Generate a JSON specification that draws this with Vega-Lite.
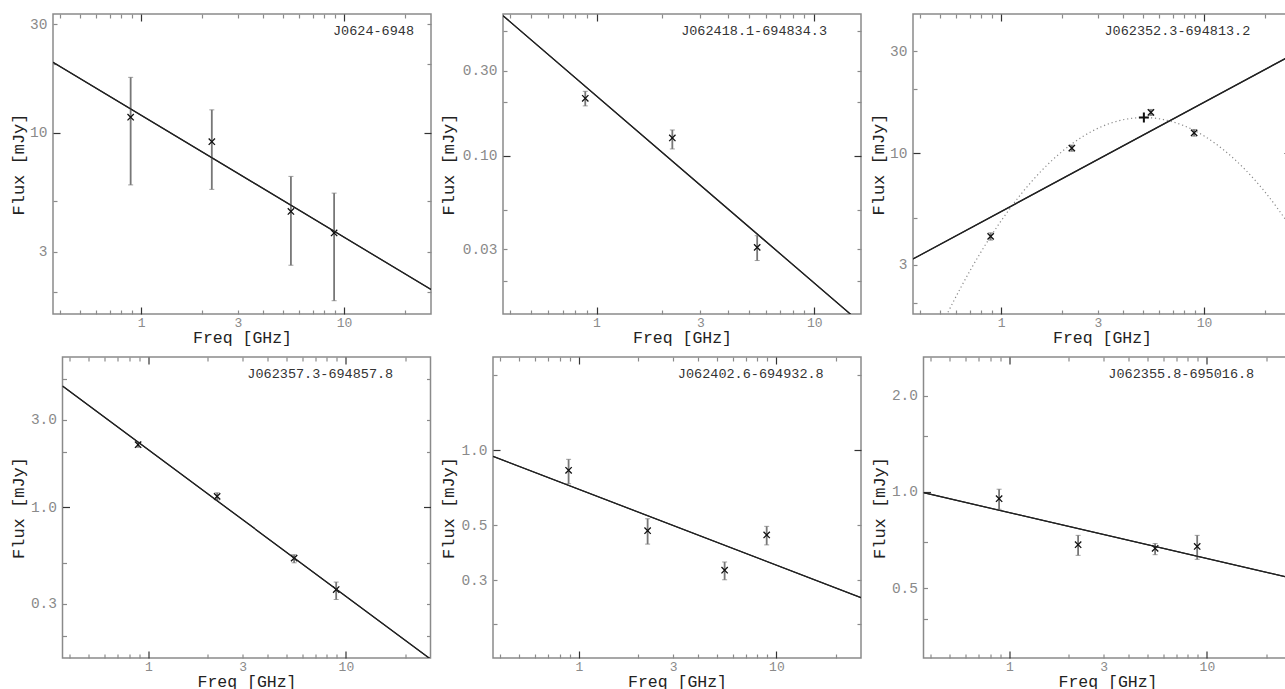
{
 "$schema": "https://vega.github.io/schema/vega-lite/v6.json",
 "padding": {"left": 0, "top": 12, "right": 0, "bottom": 0},
 "columns": 1,
 "spacing": 8,
 "config": {
  "view": {"stroke": "#8a8a8a", "strokeWidth": 1.5},
  "axis": {"grid": false, "domain": false, "labelFont": "Liberation Mono", "labelFontSize": 14.5, "labelColor": "#8a8a8a", "titleFont": "Liberation Mono", "titleFontSize": 17, "titleFontWeight": "normal", "titleColor": "#222", "tickColor": "#8a8a8a", "tickWidth": 1.2, "labelOverlap": false, "labelFlush": false},
  "axisX": {"labelFontSize": 13, "titleFontSize": 16.5},
  "title": {"anchor": "end", "frame": "group", "orient": "top", "offset": -24.5, "baseline": "alphabetic", "font": "Liberation Mono", "fontSize": 13.5, "fontWeight": "normal", "color": "#333"}
 },
 "datasets": {
  "pts": [
   {"src": "A", "freq": 0.888, "flux": 11.7, "lo": 5.9, "hi": 17.5},
   {"src": "A", "freq": 2.23, "flux": 9.13, "lo": 5.64, "hi": 12.6},
   {"src": "A", "freq": 5.47, "flux": 4.51, "lo": 2.62, "hi": 6.43},
   {"src": "A", "freq": 8.93, "flux": 3.63, "lo": 1.83, "hi": 5.43},
   {"src": "B", "freq": 0.888, "flux": 0.21, "lo": 0.1905, "hi": 0.2298},
   {"src": "B", "freq": 2.23, "flux": 0.126, "lo": 0.1094, "hi": 0.1397},
   {"src": "B", "freq": 5.47, "flux": 0.0308, "lo": 0.026, "hi": 0.0358},
   {"src": "C", "freq": 0.888, "flux": 4.08, "lo": 3.92, "hi": 4.24},
   {"src": "C", "freq": 2.23, "flux": 10.55, "lo": 10.2, "hi": 10.9},
   {"src": "C", "freq": 5.47, "flux": 15.5, "lo": 15.0, "hi": 16.0},
   {"src": "C", "freq": 8.93, "flux": 12.44, "lo": 12.0, "hi": 12.9},
   {"src": "D", "freq": 0.888, "flux": 2.19, "lo": 2.12, "hi": 2.26},
   {"src": "D", "freq": 2.23, "flux": 1.148, "lo": 1.096, "hi": 1.2},
   {"src": "D", "freq": 5.47, "flux": 0.53, "lo": 0.5, "hi": 0.553},
   {"src": "D", "freq": 8.93, "flux": 0.358, "lo": 0.316, "hi": 0.393},
   {"src": "E", "freq": 0.888, "flux": 0.831, "lo": 0.734, "hi": 0.92},
   {"src": "E", "freq": 2.23, "flux": 0.4755, "lo": 0.42, "hi": 0.531},
   {"src": "E", "freq": 5.47, "flux": 0.33, "lo": 0.302, "hi": 0.356},
   {"src": "E", "freq": 8.93, "flux": 0.457, "lo": 0.417, "hi": 0.495},
   {"src": "F", "freq": 0.888, "flux": 0.953, "lo": 0.883, "hi": 1.02},
   {"src": "F", "freq": 2.23, "flux": 0.6845, "lo": 0.634, "hi": 0.732},
   {"src": "F", "freq": 5.47, "flux": 0.667, "lo": 0.637, "hi": 0.69},
   {"src": "F", "freq": 8.93, "flux": 0.676, "lo": 0.616, "hi": 0.732}
  ],
  "fit": [
   {"src": "A", "freq": 0.368, "flux": 20.4}, {"src": "A", "freq": 26.8, "flux": 2.05},
   {"src": "B", "freq": 0.372, "flux": 0.609}, {"src": "B", "freq": 16.4, "flux": 0.0116},
   {"src": "C", "freq": 0.368, "flux": 3.2}, {"src": "C", "freq": 26.8, "flux": 28.6},
   {"src": "D", "freq": 0.368, "flux": 4.56}, {"src": "D", "freq": 26.8, "flux": 0.15},
   {"src": "E", "freq": 0.368, "flux": 0.946}, {"src": "E", "freq": 26.8, "flux": 0.256},
   {"src": "F", "freq": 0.368, "flux": 0.995}, {"src": "F", "freq": 26.8, "flux": 0.538}
  ],
  "curve": [
   {"freq": 0.525, "flux": 1.668}, {"freq": 0.631, "flux": 2.342}, {"freq": 0.794, "flux": 3.438},
   {"freq": 1.0, "flux": 4.824}, {"freq": 1.259, "flux": 6.467}, {"freq": 1.585, "flux": 8.294},
   {"freq": 1.995, "flux": 10.17}, {"freq": 2.512, "flux": 11.92}, {"freq": 3.162, "flux": 13.36},
   {"freq": 3.981, "flux": 14.31}, {"freq": 5.05, "flux": 14.66}, {"freq": 6.31, "flux": 14.35},
   {"freq": 7.943, "flux": 13.44}, {"freq": 10.0, "flux": 12.03}, {"freq": 12.59, "flux": 10.29},
   {"freq": 15.85, "flux": 8.418}, {"freq": 19.95, "flux": 6.583}, {"freq": 26.9, "flux": 4.474}
  ],
  "peak": [{"freq": 5.05, "flux": 14.66}],
  "blank": [{"b": 0}]
 },
 "concat": [
  {"spacing": 5, "hconcat": [
   {"width": 2.3, "height": 1, "data": {"name": "blank"}, "mark": {"type": "rect", "opacity": 0}, "view": {"stroke": null}},
   {"width": 378, "height": 300, "title": {"text": "J0624-6948", "dx": -17},
    "layer": [
     {"data": {"name": "fit"}, "transform": [{"filter": "datum.src == 'A'"}], "mark": {"type": "line", "clip": true, "color": "#222", "strokeWidth": 1.2},
      "encoding": {
       "x": {"field": "freq", "type": "quantitative", "scale": {"type": "log", "domain": [0.368, 26.8], "nice": false}, "axis": {"orient": "bottom", "title": "Freq [GHz]", "ticks": false, "values": [1,3,10], "format": "~g", "labelPadding": 2, "minExtent": 13, "maxExtent": 13, "titlePadding": 2}},
       "y": {"field": "flux", "type": "quantitative", "scale": {"type": "log", "domain": [1.6, 33.2], "nice": false}, "axis": {"orient": "left", "title": "Flux [mJy]", "ticks": false, "values": [3,10,30], "format": "~g", "labelPadding": 6, "minExtent": 21.3, "maxExtent": 21.3, "titlePadding": 4}}}},
     {"data": {"name": "pts"}, "transform": [{"filter": "datum.src == 'A'"}], "mark": {"type": "errorbar", "ticks": {"size": 5, "color": "#777"}, "rule": {"color": "#777", "strokeWidth": 1.8}},
      "encoding": {
       "x": {"field": "freq", "type": "quantitative", "scale": {"type": "log", "domain": [0.368, 26.8], "nice": false}, "axis": null},
       "y": {"field": "lo", "type": "quantitative", "scale": {"type": "log", "domain": [1.6, 33.2], "nice": false}, "axis": null},
       "y2": {"field": "hi"}}},
     {"data": {"name": "pts"}, "transform": [{"filter": "datum.src == 'A'"}], "mark": {"type": "point", "shape": "M-1,-1L1,1M-1,1L1,-1", "size": 40, "filled": false, "color": "#111", "strokeWidth": 1.3, "opacity": 1},
      "encoding": {
       "x": {"field": "freq", "type": "quantitative", "scale": {"type": "log", "domain": [0.368, 26.8], "nice": false}, "axis": {"orient": "top", "labels": false, "title": null, "values": [0.4,0.5,0.6,0.7,0.8,0.9,1,2,3,4,5,6,7,8,9,10,20], "tickSize": {"condition": {"test": "datum.value === 1 || datum.value === 10", "value": -7}, "value": -4}, "tickColor": {"condition": {"test": "datum.value === 1 || datum.value === 10", "value": "#333"}, "value": "#8a8a8a"}, "minExtent": 0, "maxExtent": 0}},
       "y": {"field": "flux", "type": "quantitative", "scale": {"type": "log", "domain": [1.6, 33.2], "nice": false}, "axis": {"orient": "right", "labels": false, "title": null, "values": [2,3,5,10,20,30], "tickSize": {"condition": {"test": "datum.value === 10", "value": -7}, "value": -4}, "tickColor": {"condition": {"test": "datum.value === 10", "value": "#333"}, "value": "#8a8a8a"}, "minExtent": 0, "maxExtent": 0}}}},
     {"data": {"name": "fit"}, "transform": [{"filter": "datum.src == 'A'"}], "mark": {"type": "line", "clip": true, "color": "#222", "strokeWidth": 1.2},
      "encoding": {
       "x": {"field": "freq", "type": "quantitative", "scale": {"type": "log", "domain": [0.368, 26.8], "nice": false}, "axis": {"orient": "bottom", "labels": false, "title": null, "values": [0.4,0.5,0.6,0.7,0.8,0.9,1,2,3,4,5,6,7,8,9,10,20], "tickSize": {"condition": {"test": "datum.value === 1 || datum.value === 10", "value": -7}, "value": -4}, "tickColor": {"condition": {"test": "datum.value === 1 || datum.value === 10", "value": "#333"}, "value": "#8a8a8a"}, "minExtent": 0, "maxExtent": 0}},
       "y": {"field": "flux", "type": "quantitative", "scale": {"type": "log", "domain": [1.6, 33.2], "nice": false}, "axis": {"orient": "left", "labels": false, "title": null, "values": [2,3,5,10,20,30], "tickSize": {"condition": {"test": "datum.value === 10", "value": -7}, "value": -4}, "tickColor": {"condition": {"test": "datum.value === 10", "value": "#333"}, "value": "#8a8a8a"}, "minExtent": 0, "maxExtent": 0}}}}
    ],
    "resolve": {"axis": {"x": "independent", "y": "independent"}}},
   {"width": 358, "height": 300, "title": {"text": "J062418.1-694834.3", "dx": -34},
    "layer": [
     {"data": {"name": "fit"}, "transform": [{"filter": "datum.src == 'B'"}], "mark": {"type": "line", "clip": true, "color": "#222", "strokeWidth": 1.2},
      "encoding": {
       "x": {"field": "freq", "type": "quantitative", "scale": {"type": "log", "domain": [0.372, 16.4], "nice": false}, "axis": {"orient": "bottom", "title": "Freq [GHz]", "ticks": false, "values": [1,3,10], "format": "~g", "labelPadding": 2, "minExtent": 13, "maxExtent": 13, "titlePadding": 2}},
       "y": {"field": "flux", "type": "quantitative", "scale": {"type": "log", "domain": [0.01306, 0.622], "nice": false}, "axis": {"orient": "left", "title": "Flux [mJy]", "ticks": false, "values": [0.03,0.1,0.3], "format": ".2f", "labelPadding": 6, "minExtent": 41.3, "maxExtent": 41.3, "titlePadding": 4}}}},
     {"data": {"name": "pts"}, "transform": [{"filter": "datum.src == 'B'"}], "mark": {"type": "errorbar", "ticks": {"size": 5, "color": "#777"}, "rule": {"color": "#777", "strokeWidth": 1.8}},
      "encoding": {
       "x": {"field": "freq", "type": "quantitative", "scale": {"type": "log", "domain": [0.372, 16.4], "nice": false}, "axis": null},
       "y": {"field": "lo", "type": "quantitative", "scale": {"type": "log", "domain": [0.01306, 0.622], "nice": false}, "axis": null},
       "y2": {"field": "hi"}}},
     {"data": {"name": "pts"}, "transform": [{"filter": "datum.src == 'B'"}], "mark": {"type": "point", "shape": "M-1,-1L1,1M-1,1L1,-1", "size": 40, "filled": false, "color": "#111", "strokeWidth": 1.3, "opacity": 1},
      "encoding": {
       "x": {"field": "freq", "type": "quantitative", "scale": {"type": "log", "domain": [0.372, 16.4], "nice": false}, "axis": {"orient": "top", "labels": false, "title": null, "values": [0.4,0.5,0.6,0.7,0.8,0.9,1,2,3,4,5,6,7,8,9,10], "tickSize": {"condition": {"test": "datum.value === 1 || datum.value === 10", "value": -7}, "value": -4}, "tickColor": {"condition": {"test": "datum.value === 1 || datum.value === 10", "value": "#333"}, "value": "#8a8a8a"}, "minExtent": 0, "maxExtent": 0}},
       "y": {"field": "flux", "type": "quantitative", "scale": {"type": "log", "domain": [0.01306, 0.622], "nice": false}, "axis": {"orient": "right", "labels": false, "title": null, "values": [0.02,0.03,0.05,0.1,0.2,0.3,0.5], "tickSize": {"condition": {"test": "datum.value === 0.1", "value": -7}, "value": -4}, "tickColor": {"condition": {"test": "datum.value === 0.1", "value": "#333"}, "value": "#8a8a8a"}, "minExtent": 0, "maxExtent": 0}}}},
     {"data": {"name": "fit"}, "transform": [{"filter": "datum.src == 'B'"}], "mark": {"type": "line", "clip": true, "color": "#222", "strokeWidth": 1.2},
      "encoding": {
       "x": {"field": "freq", "type": "quantitative", "scale": {"type": "log", "domain": [0.372, 16.4], "nice": false}, "axis": {"orient": "bottom", "labels": false, "title": null, "values": [0.4,0.5,0.6,0.7,0.8,0.9,1,2,3,4,5,6,7,8,9,10], "tickSize": {"condition": {"test": "datum.value === 1 || datum.value === 10", "value": -7}, "value": -4}, "tickColor": {"condition": {"test": "datum.value === 1 || datum.value === 10", "value": "#333"}, "value": "#8a8a8a"}, "minExtent": 0, "maxExtent": 0}},
       "y": {"field": "flux", "type": "quantitative", "scale": {"type": "log", "domain": [0.01306, 0.622], "nice": false}, "axis": {"orient": "left", "labels": false, "title": null, "values": [0.02,0.03,0.05,0.1,0.2,0.3,0.5], "tickSize": {"condition": {"test": "datum.value === 0.1", "value": -7}, "value": -4}, "tickColor": {"condition": {"test": "datum.value === 0.1", "value": "#333"}, "value": "#8a8a8a"}, "minExtent": 0, "maxExtent": 0}}}}
    ],
    "resolve": {"axis": {"x": "independent", "y": "independent"}}},
   {"width": 378, "height": 300, "title": {"text": "J062352.3-694813.2", "dx": -40.7},
    "layer": [
     {"data": {"name": "fit"}, "transform": [{"filter": "datum.src == 'C'"}], "mark": {"type": "line", "clip": true, "color": "#222", "strokeWidth": 1.2},
      "encoding": {
       "x": {"field": "freq", "type": "quantitative", "scale": {"type": "log", "domain": [0.368, 26.8], "nice": false}, "axis": {"orient": "bottom", "title": "Freq [GHz]", "ticks": false, "values": [1,3,10], "format": "~g", "labelPadding": 2, "minExtent": 13, "maxExtent": 13, "titlePadding": 2}},
       "y": {"field": "flux", "type": "quantitative", "scale": {"type": "log", "domain": [1.77, 44.7], "nice": false}, "axis": {"orient": "left", "title": "Flux [mJy]", "ticks": false, "values": [3,10,30], "format": "~g", "labelPadding": 6, "minExtent": 21.3, "maxExtent": 21.3, "titlePadding": 4}}}},
     {"data": {"name": "curve"}, "mark": {"type": "line", "clip": true, "color": "#8a8a8a", "strokeWidth": 1.2, "strokeDash": [1.2, 2.8], "interpolate": "monotone"},
      "encoding": {
       "x": {"field": "freq", "type": "quantitative", "scale": {"type": "log", "domain": [0.368, 26.8], "nice": false}, "axis": null},
       "y": {"field": "flux", "type": "quantitative", "scale": {"type": "log", "domain": [1.77, 44.7], "nice": false}, "axis": null}}},
     {"data": {"name": "pts"}, "transform": [{"filter": "datum.src == 'C'"}], "mark": {"type": "errorbar", "ticks": {"size": 5, "color": "#777"}, "rule": {"color": "#777", "strokeWidth": 1.8}},
      "encoding": {
       "x": {"field": "freq", "type": "quantitative", "scale": {"type": "log", "domain": [0.368, 26.8], "nice": false}, "axis": null},
       "y": {"field": "lo", "type": "quantitative", "scale": {"type": "log", "domain": [1.77, 44.7], "nice": false}, "axis": null},
       "y2": {"field": "hi"}}},
     {"data": {"name": "peak"}, "mark": {"type": "point", "shape": "M-1,0L1,0M0,-1L0,1", "size": 100, "filled": false, "color": "#111", "strokeWidth": 2, "opacity": 1},
      "encoding": {
       "x": {"field": "freq", "type": "quantitative", "scale": {"type": "log", "domain": [0.368, 26.8], "nice": false}, "axis": null},
       "y": {"field": "flux", "type": "quantitative", "scale": {"type": "log", "domain": [1.77, 44.7], "nice": false}, "axis": null}}},
     {"data": {"name": "pts"}, "transform": [{"filter": "datum.src == 'C'"}], "mark": {"type": "point", "shape": "M-1,-1L1,1M-1,1L1,-1", "size": 40, "filled": false, "color": "#111", "strokeWidth": 1.3, "opacity": 1},
      "encoding": {
       "x": {"field": "freq", "type": "quantitative", "scale": {"type": "log", "domain": [0.368, 26.8], "nice": false}, "axis": {"orient": "top", "labels": false, "title": null, "values": [0.4,0.5,0.6,0.7,0.8,0.9,1,2,3,4,5,6,7,8,9,10,20], "tickSize": {"condition": {"test": "datum.value === 1 || datum.value === 10", "value": -7}, "value": -4}, "tickColor": {"condition": {"test": "datum.value === 1 || datum.value === 10", "value": "#333"}, "value": "#8a8a8a"}, "minExtent": 0, "maxExtent": 0}},
       "y": {"field": "flux", "type": "quantitative", "scale": {"type": "log", "domain": [1.77, 44.7], "nice": false}, "axis": {"orient": "right", "labels": false, "title": null, "values": [2,3,5,10,20,30], "tickSize": {"condition": {"test": "datum.value === 10", "value": -7}, "value": -4}, "tickColor": {"condition": {"test": "datum.value === 10", "value": "#333"}, "value": "#8a8a8a"}, "minExtent": 0, "maxExtent": 0}}}},
     {"data": {"name": "fit"}, "transform": [{"filter": "datum.src == 'C'"}], "mark": {"type": "line", "clip": true, "color": "#222", "strokeWidth": 1.2},
      "encoding": {
       "x": {"field": "freq", "type": "quantitative", "scale": {"type": "log", "domain": [0.368, 26.8], "nice": false}, "axis": {"orient": "bottom", "labels": false, "title": null, "values": [0.4,0.5,0.6,0.7,0.8,0.9,1,2,3,4,5,6,7,8,9,10,20], "tickSize": {"condition": {"test": "datum.value === 1 || datum.value === 10", "value": -7}, "value": -4}, "tickColor": {"condition": {"test": "datum.value === 1 || datum.value === 10", "value": "#333"}, "value": "#8a8a8a"}, "minExtent": 0, "maxExtent": 0}},
       "y": {"field": "flux", "type": "quantitative", "scale": {"type": "log", "domain": [1.77, 44.7], "nice": false}, "axis": {"orient": "left", "labels": false, "title": null, "values": [2,3,5,10,20,30], "tickSize": {"condition": {"test": "datum.value === 10", "value": -7}, "value": -4}, "tickColor": {"condition": {"test": "datum.value === 10", "value": "#333"}, "value": "#8a8a8a"}, "minExtent": 0, "maxExtent": 0}}}}
    ],
    "resolve": {"axis": {"x": "independent", "y": "independent"}}}
  ]},
  {"spacing": 5.5, "hconcat": [
   {"width": 1.8, "height": 1, "data": {"name": "blank"}, "mark": {"type": "rect", "opacity": 0}, "view": {"stroke": null}},
   {"width": 368, "height": 301, "title": {"text": "J062357.3-694857.8", "dx": -37.3},
    "layer": [
     {"data": {"name": "fit"}, "transform": [{"filter": "datum.src == 'D'"}], "mark": {"type": "line", "clip": true, "color": "#222", "strokeWidth": 1.2},
      "encoding": {
       "x": {"field": "freq", "type": "quantitative", "scale": {"type": "log", "domain": [0.368, 26.8], "nice": false}, "axis": {"orient": "bottom", "title": "Freq [GHz]", "ticks": false, "values": [1,3,10], "format": "~g", "labelPadding": 2, "minExtent": 13, "maxExtent": 13, "titlePadding": 2}},
       "y": {"field": "flux", "type": "quantitative", "scale": {"type": "log", "domain": [0.152, 6.56], "nice": false}, "axis": {"orient": "left", "title": "Flux [mJy]", "ticks": false, "values": [0.3,1,3], "format": ".1f", "labelPadding": 6, "minExtent": 31.3, "maxExtent": 31.3, "titlePadding": 4}}}},
     {"data": {"name": "pts"}, "transform": [{"filter": "datum.src == 'D'"}], "mark": {"type": "errorbar", "ticks": {"size": 5, "color": "#777"}, "rule": {"color": "#777", "strokeWidth": 1.8}},
      "encoding": {
       "x": {"field": "freq", "type": "quantitative", "scale": {"type": "log", "domain": [0.368, 26.8], "nice": false}, "axis": null},
       "y": {"field": "lo", "type": "quantitative", "scale": {"type": "log", "domain": [0.152, 6.56], "nice": false}, "axis": null},
       "y2": {"field": "hi"}}},
     {"data": {"name": "pts"}, "transform": [{"filter": "datum.src == 'D'"}], "mark": {"type": "point", "shape": "M-1,-1L1,1M-1,1L1,-1", "size": 40, "filled": false, "color": "#111", "strokeWidth": 1.3, "opacity": 1},
      "encoding": {
       "x": {"field": "freq", "type": "quantitative", "scale": {"type": "log", "domain": [0.368, 26.8], "nice": false}, "axis": {"orient": "top", "labels": false, "title": null, "values": [0.4,0.5,0.6,0.7,0.8,0.9,1,2,3,4,5,6,7,8,9,10,20], "tickSize": {"condition": {"test": "datum.value === 1 || datum.value === 10", "value": -7}, "value": -4}, "tickColor": {"condition": {"test": "datum.value === 1 || datum.value === 10", "value": "#333"}, "value": "#8a8a8a"}, "minExtent": 0, "maxExtent": 0}},
       "y": {"field": "flux", "type": "quantitative", "scale": {"type": "log", "domain": [0.152, 6.56], "nice": false}, "axis": {"orient": "right", "labels": false, "title": null, "values": [0.2,0.3,0.5,1,2,3,5], "tickSize": {"condition": {"test": "datum.value === 1", "value": -7}, "value": -4}, "tickColor": {"condition": {"test": "datum.value === 1", "value": "#333"}, "value": "#8a8a8a"}, "minExtent": 0, "maxExtent": 0}}}},
     {"data": {"name": "fit"}, "transform": [{"filter": "datum.src == 'D'"}], "mark": {"type": "line", "clip": true, "color": "#222", "strokeWidth": 1.2},
      "encoding": {
       "x": {"field": "freq", "type": "quantitative", "scale": {"type": "log", "domain": [0.368, 26.8], "nice": false}, "axis": {"orient": "bottom", "labels": false, "title": null, "values": [0.4,0.5,0.6,0.7,0.8,0.9,1,2,3,4,5,6,7,8,9,10,20], "tickSize": {"condition": {"test": "datum.value === 1 || datum.value === 10", "value": -7}, "value": -4}, "tickColor": {"condition": {"test": "datum.value === 1 || datum.value === 10", "value": "#333"}, "value": "#8a8a8a"}, "minExtent": 0, "maxExtent": 0}},
       "y": {"field": "flux", "type": "quantitative", "scale": {"type": "log", "domain": [0.152, 6.56], "nice": false}, "axis": {"orient": "left", "labels": false, "title": null, "values": [0.2,0.3,0.5,1,2,3,5], "tickSize": {"condition": {"test": "datum.value === 1", "value": -7}, "value": -4}, "tickColor": {"condition": {"test": "datum.value === 1", "value": "#333"}, "value": "#8a8a8a"}, "minExtent": 0, "maxExtent": 0}}}}
    ],
    "resolve": {"axis": {"x": "independent", "y": "independent"}}},
   {"width": 368, "height": 301, "title": {"text": "J062402.6-694932.8", "dx": -37.3},
    "layer": [
     {"data": {"name": "fit"}, "transform": [{"filter": "datum.src == 'E'"}], "mark": {"type": "line", "clip": true, "color": "#222", "strokeWidth": 1.2},
      "encoding": {
       "x": {"field": "freq", "type": "quantitative", "scale": {"type": "log", "domain": [0.368, 26.8], "nice": false}, "axis": {"orient": "bottom", "title": "Freq [GHz]", "ticks": false, "values": [1,3,10], "format": "~g", "labelPadding": 2, "minExtent": 13, "maxExtent": 13, "titlePadding": 2}},
       "y": {"field": "flux", "type": "quantitative", "scale": {"type": "log", "domain": [0.1465, 2.37], "nice": false}, "axis": {"orient": "left", "title": "Flux [mJy]", "ticks": false, "values": [0.3,0.5,1], "format": ".1f", "labelPadding": 6, "minExtent": 31.3, "maxExtent": 31.3, "titlePadding": 4}}}},
     {"data": {"name": "pts"}, "transform": [{"filter": "datum.src == 'E'"}], "mark": {"type": "errorbar", "ticks": {"size": 5, "color": "#777"}, "rule": {"color": "#777", "strokeWidth": 1.8}},
      "encoding": {
       "x": {"field": "freq", "type": "quantitative", "scale": {"type": "log", "domain": [0.368, 26.8], "nice": false}, "axis": null},
       "y": {"field": "lo", "type": "quantitative", "scale": {"type": "log", "domain": [0.1465, 2.37], "nice": false}, "axis": null},
       "y2": {"field": "hi"}}},
     {"data": {"name": "pts"}, "transform": [{"filter": "datum.src == 'E'"}], "mark": {"type": "point", "shape": "M-1,-1L1,1M-1,1L1,-1", "size": 40, "filled": false, "color": "#111", "strokeWidth": 1.3, "opacity": 1},
      "encoding": {
       "x": {"field": "freq", "type": "quantitative", "scale": {"type": "log", "domain": [0.368, 26.8], "nice": false}, "axis": {"orient": "top", "labels": false, "title": null, "values": [0.4,0.5,0.6,0.7,0.8,0.9,1,2,3,4,5,6,7,8,9,10,20], "tickSize": {"condition": {"test": "datum.value === 1 || datum.value === 10", "value": -7}, "value": -4}, "tickColor": {"condition": {"test": "datum.value === 1 || datum.value === 10", "value": "#333"}, "value": "#8a8a8a"}, "minExtent": 0, "maxExtent": 0}},
       "y": {"field": "flux", "type": "quantitative", "scale": {"type": "log", "domain": [0.1465, 2.37], "nice": false}, "axis": {"orient": "right", "labels": false, "title": null, "values": [0.2,0.3,0.5,1,2], "tickSize": {"condition": {"test": "datum.value === 1", "value": -7}, "value": -4}, "tickColor": {"condition": {"test": "datum.value === 1", "value": "#333"}, "value": "#8a8a8a"}, "minExtent": 0, "maxExtent": 0}}}},
     {"data": {"name": "fit"}, "transform": [{"filter": "datum.src == 'E'"}], "mark": {"type": "line", "clip": true, "color": "#222", "strokeWidth": 1.2},
      "encoding": {
       "x": {"field": "freq", "type": "quantitative", "scale": {"type": "log", "domain": [0.368, 26.8], "nice": false}, "axis": {"orient": "bottom", "labels": false, "title": null, "values": [0.4,0.5,0.6,0.7,0.8,0.9,1,2,3,4,5,6,7,8,9,10,20], "tickSize": {"condition": {"test": "datum.value === 1 || datum.value === 10", "value": -7}, "value": -4}, "tickColor": {"condition": {"test": "datum.value === 1 || datum.value === 10", "value": "#333"}, "value": "#8a8a8a"}, "minExtent": 0, "maxExtent": 0}},
       "y": {"field": "flux", "type": "quantitative", "scale": {"type": "log", "domain": [0.1465, 2.37], "nice": false}, "axis": {"orient": "left", "labels": false, "title": null, "values": [0.2,0.3,0.5,1,2], "tickSize": {"condition": {"test": "datum.value === 1", "value": -7}, "value": -4}, "tickColor": {"condition": {"test": "datum.value === 1", "value": "#333"}, "value": "#8a8a8a"}, "minExtent": 0, "maxExtent": 0}}}}
    ],
    "resolve": {"axis": {"x": "independent", "y": "independent"}}},
   {"width": 368, "height": 301, "title": {"text": "J062355.8-695016.8", "dx": -37.3},
    "layer": [
     {"data": {"name": "fit"}, "transform": [{"filter": "datum.src == 'F'"}], "mark": {"type": "line", "clip": true, "color": "#222", "strokeWidth": 1.2},
      "encoding": {
       "x": {"field": "freq", "type": "quantitative", "scale": {"type": "log", "domain": [0.368, 26.8], "nice": false}, "axis": {"orient": "bottom", "title": "Freq [GHz]", "ticks": false, "values": [1,3,10], "format": "~g", "labelPadding": 2, "minExtent": 13, "maxExtent": 13, "titlePadding": 2}},
       "y": {"field": "flux", "type": "quantitative", "scale": {"type": "log", "domain": [0.303, 2.64], "nice": false}, "axis": {"orient": "left", "title": "Flux [mJy]", "ticks": false, "values": [0.5,1,2], "format": ".1f", "labelPadding": 6, "minExtent": 31.3, "maxExtent": 31.3, "titlePadding": 4}}}},
     {"data": {"name": "pts"}, "transform": [{"filter": "datum.src == 'F'"}], "mark": {"type": "errorbar", "ticks": {"size": 5, "color": "#777"}, "rule": {"color": "#777", "strokeWidth": 1.8}},
      "encoding": {
       "x": {"field": "freq", "type": "quantitative", "scale": {"type": "log", "domain": [0.368, 26.8], "nice": false}, "axis": null},
       "y": {"field": "lo", "type": "quantitative", "scale": {"type": "log", "domain": [0.303, 2.64], "nice": false}, "axis": null},
       "y2": {"field": "hi"}}},
     {"data": {"name": "pts"}, "transform": [{"filter": "datum.src == 'F'"}], "mark": {"type": "point", "shape": "M-1,-1L1,1M-1,1L1,-1", "size": 40, "filled": false, "color": "#111", "strokeWidth": 1.3, "opacity": 1},
      "encoding": {
       "x": {"field": "freq", "type": "quantitative", "scale": {"type": "log", "domain": [0.368, 26.8], "nice": false}, "axis": {"orient": "top", "labels": false, "title": null, "values": [0.4,0.5,0.6,0.7,0.8,0.9,1,2,3,4,5,6,7,8,9,10,20], "tickSize": {"condition": {"test": "datum.value === 1 || datum.value === 10", "value": -7}, "value": -4}, "tickColor": {"condition": {"test": "datum.value === 1 || datum.value === 10", "value": "#333"}, "value": "#8a8a8a"}, "minExtent": 0, "maxExtent": 0}},
       "y": {"field": "flux", "type": "quantitative", "scale": {"type": "log", "domain": [0.303, 2.64], "nice": false}, "axis": {"orient": "right", "labels": false, "title": null, "values": [0.4,0.5,0.7,1,1.5,2], "tickSize": {"condition": {"test": "datum.value === 1", "value": -7}, "value": -4}, "tickColor": {"condition": {"test": "datum.value === 1", "value": "#333"}, "value": "#8a8a8a"}, "minExtent": 0, "maxExtent": 0}}}},
     {"data": {"name": "fit"}, "transform": [{"filter": "datum.src == 'F'"}], "mark": {"type": "line", "clip": true, "color": "#222", "strokeWidth": 1.2},
      "encoding": {
       "x": {"field": "freq", "type": "quantitative", "scale": {"type": "log", "domain": [0.368, 26.8], "nice": false}, "axis": {"orient": "bottom", "labels": false, "title": null, "values": [0.4,0.5,0.6,0.7,0.8,0.9,1,2,3,4,5,6,7,8,9,10,20], "tickSize": {"condition": {"test": "datum.value === 1 || datum.value === 10", "value": -7}, "value": -4}, "tickColor": {"condition": {"test": "datum.value === 1 || datum.value === 10", "value": "#333"}, "value": "#8a8a8a"}, "minExtent": 0, "maxExtent": 0}},
       "y": {"field": "flux", "type": "quantitative", "scale": {"type": "log", "domain": [0.303, 2.64], "nice": false}, "axis": {"orient": "left", "labels": false, "title": null, "values": [0.4,0.5,0.7,1,1.5,2], "tickSize": {"condition": {"test": "datum.value === 1", "value": -7}, "value": -4}, "tickColor": {"condition": {"test": "datum.value === 1", "value": "#333"}, "value": "#8a8a8a"}, "minExtent": 0, "maxExtent": 0}}}}
    ],
    "resolve": {"axis": {"x": "independent", "y": "independent"}}}
  ]}
 ]
}
